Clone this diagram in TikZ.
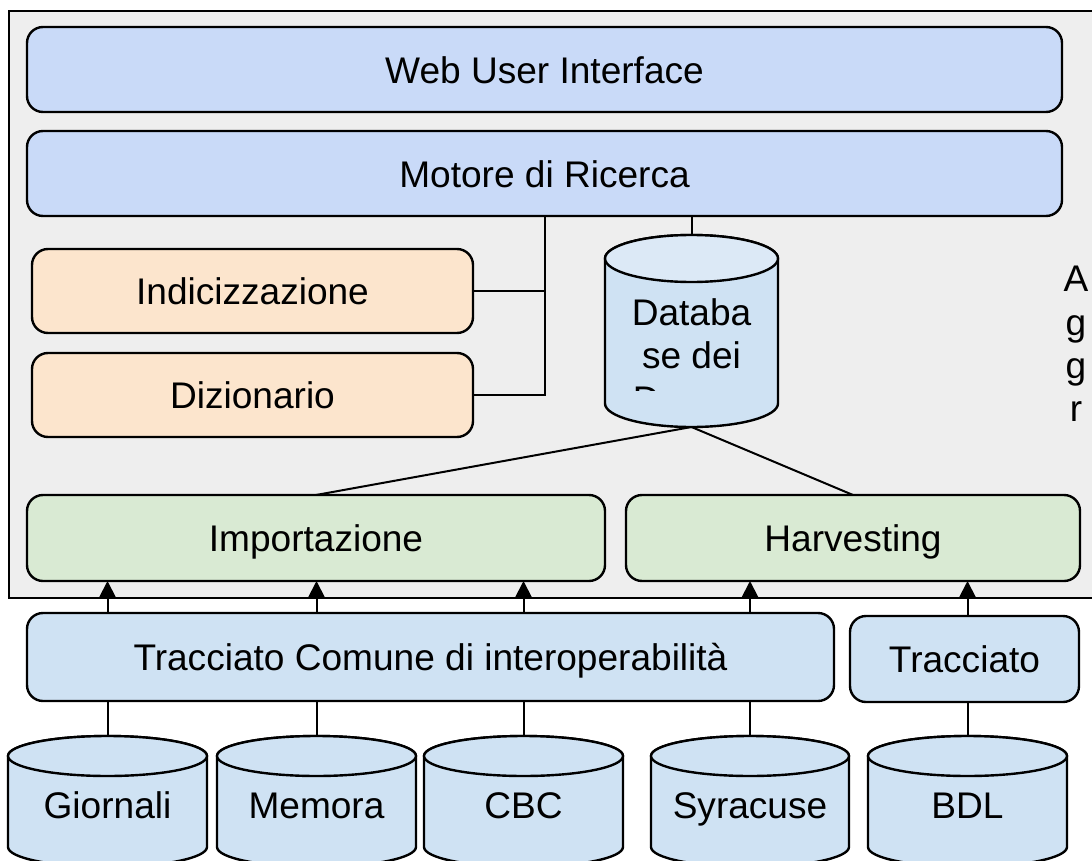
\documentclass[tikz,border=0pt]{standalone}
\usepackage{fontspec}
\setmainfont{Liberation Sans}
\usetikzlibrary{arrows.meta,backgrounds}

\definecolor{framegrey}{HTML}{EEEEEE}
\definecolor{topblue}{HTML}{C9DAF8}
\definecolor{paleblue}{HTML}{CFE2F3}
\definecolor{dbcap}{HTML}{DCE9F6}
\definecolor{paleorange}{HTML}{FCE5CD}
\definecolor{palegreen}{HTML}{D9EAD3}

% Cylinder outline behind a node: #1 node, #2 half width, #3 cap half height, #4 cap fill
\newcommand\drumshape[4]{%
  \begin{pgfonlayer}{background}
    \path[drum] ([yshift=-#3bp]#1.north west) -- ([yshift=#3bp]#1.south west)
      arc[start angle=180,end angle=360,x radius=#2bp,y radius=#3bp]
      -- ([yshift=-#3bp]#1.north east)
      arc[start angle=0,end angle=180,x radius=#2bp,y radius=#3bp] -- cycle;
    \path[drum, fill=#4] ([yshift=-#3bp]#1.north) ellipse[x radius=#2bp,y radius=#3bp];
  \end{pgfonlayer}}

\begin{document}
\begin{tikzpicture}[x=1bp,y=1bp,
  every node/.style={font=\fontsize{37.2pt}{43.3bp}\selectfont, inner sep=0pt, outer sep=0pt},
  box/.style={draw, line width=2.4bp, rounded corners=16bp, text height=27bp, text depth=0pt},
  drumnode/.style={text height=33bp, text depth=0pt},
  drum/.style={draw, line width=2.4bp, fill=paleblue},
  link/.style={line width=2bp},
  feed/.style={line width=2bp, -{Triangle[width=17bp,length=17bp]}},
]
\useasboundingbox (0,0) rectangle (1092,-861);

% aggregator frame
\begin{pgfonlayer}{background}
  \node[draw, line width=2.4bp, fill=framegrey, minimum width=1091bp, minimum height=587bp]
    (frame) at (554.5,-304.5) {};
\end{pgfonlayer}

% upper layers
\node[box, fill=topblue, minimum width=1035bp, minimum height=85bp] (wui) at (544.5,-69.5) {Web User Interface};
\node[box, fill=topblue, minimum width=1035bp, minimum height=85bp] (motore) at (544.5,-173.5) {Motore di Ricerca};
\node[box, fill=paleorange, minimum width=441bp, minimum height=84bp] (idx) at (252.5,-291) {Indicizzazione};
\node[box, fill=paleorange, minimum width=441bp, minimum height=84bp] (diz) at (252.5,-395) {Dizionario};

% central database
\node[minimum width=173bp, minimum height=192bp] (db) at (691.5,-331) {};
\drumshape{db}{86.5}{23.5}{dbcap}
\begin{scope}
  \clip (600,-290) rectangle (780,-390);
  \node[align=center] (dbtext) at (691.5,-355.5) {Databa\\se dei\\Docum};
\end{scope}

\node (aggr) [align=center] at (1076,-343.9) {A\\g\\g\\r};

% ingestion
\node[box, fill=palegreen, minimum width=578bp, minimum height=86bp] (imp) at (316,-538) {Importazione};
\node[box, fill=palegreen, minimum width=454bp, minimum height=86bp] (harv) at (853,-538) {Harvesting};

% exchange formats
\node[box, fill=paleblue, minimum width=807bp, minimum height=88bp] (tcom) at (430.5,-657) {Tracciato Comune di interoperabilità};
\node[box, fill=paleblue, minimum width=229bp, minimum height=86bp] (trac) at (964.5,-659) {Tracciato};

% sources
\node[drumnode, minimum width=199bp, minimum height=131bp] (giornali) at (107.5,-801.5) {Giornali};
\node[drumnode, minimum width=199bp, minimum height=131bp] (memora) at (316.5,-801.5) {Memora};
\node[drumnode, minimum width=199bp, minimum height=131bp] (cbc) at (523.5,-801.5) {CBC};
\node[drumnode, minimum width=198bp, minimum height=131bp] (syracuse) at (750,-801.5) {Syracuse};
\node[drumnode, minimum width=199bp, minimum height=131bp] (bdl) at (967.5,-801.5) {BDL};
\drumshape{giornali}{99.5}{20}{paleblue}
\drumshape{memora}{99.5}{20}{paleblue}
\drumshape{cbc}{99.5}{20}{paleblue}
\drumshape{syracuse}{99}{20}{paleblue}
\drumshape{bdl}{99.5}{20}{paleblue}

% search engine links
\draw[link] (motore.south -| db.north) -- (db.north);
\draw[link] (motore.south) |- (diz.east);
\draw[link] (idx.east) -- (idx.east -| motore.south);
\draw[link] (db.south) -- (imp.north);
\draw[link] (db.south) -- (harv.north);

% feeds into the aggregator
\draw[feed] (tcom.north -| giornali.north) -- (imp.south -| giornali.north);
\draw[feed] (tcom.north -| memora.north) -- (imp.south -| memora.north);
\draw[feed] (tcom.north -| cbc.north) -- (imp.south -| cbc.north);
\draw[feed] (tcom.north -| syracuse.north) -- (harv.south -| syracuse.north);
\draw[feed] (trac.north -| bdl.north) -- (harv.south -| bdl.north);

% sources to formats
\draw[link] (tcom.south -| giornali.north) -- (giornali.north);
\draw[link] (tcom.south -| memora.north) -- (memora.north);
\draw[link] (tcom.south -| cbc.north) -- (cbc.north);
\draw[link] (tcom.south -| syracuse.north) -- (syracuse.north);
\draw[link] (trac.south -| bdl.north) -- (bdl.north);
\end{tikzpicture}
\end{document}
